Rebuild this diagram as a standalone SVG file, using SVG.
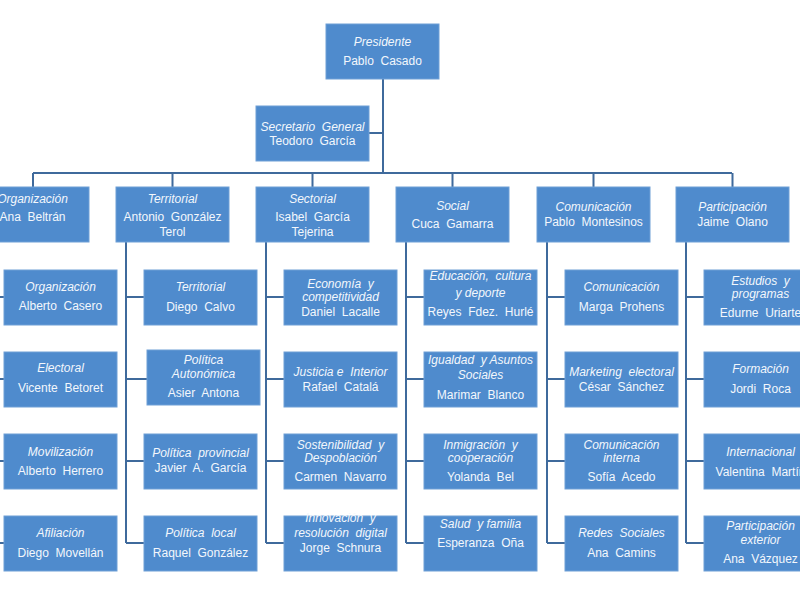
<svg xmlns="http://www.w3.org/2000/svg" width="800" height="600" viewBox="0 0 800 600">
<style>
.b{fill:#4f8bcd;stroke:#6f9fd6;stroke-width:1}
.c{fill:none;stroke:#3f6a9c;stroke-width:2}
text{font-family:"Liberation Sans",Arial,sans-serif;font-size:12px;fill:#f3f7fc;text-anchor:middle;white-space:pre}
.i{font-style:italic}
</style>
<rect width="800" height="600" fill="#ffffff"/>
<g id="connectors" class="c">
<path d="M383,79V173M369,133H383M33,173H732M33,173V187M172.5,173V187M312.5,173V187M452.5,173V187M593.5,173V187M732.5,173V187"/>
<path d="M-14,242V543M-14,297H4M-14,379H4M-14,461H4M-14,543H4"/>
<path d="M126,242V543M126,297H144M126,379H147M126,461H144M126,543H144"/>
<path d="M266,242V543M266,297H284M266,379H284M266,461H284M266,543H284"/>
<path d="M406,242V543M406,297H424M406,379H424M406,461H424M406,543H424"/>
<path d="M547,242V543M547,297H565M547,379H565M547,461H565M547,543H565"/>
<path d="M686,242V543M686,297H704M686,379H704M686,461H704M686,543H704"/>
</g>
<g id="presidente"><rect class="b" x="326" y="24" width="113" height="55"/><text class="i" x="382.5" y="46">Presidente</text><text x="382.5" y="65">Pablo  Casado</text></g>
<g id="secretario"><rect class="b" x="256" y="106" width="113" height="55"/><text class="i" x="312.5" y="131">Secretario  General</text><text x="312.5" y="145">Teodoro  García</text></g>

<g id="organizacion"><rect class="b" x="-24" y="187" width="113" height="55"/><text class="i" x="32.5" y="203">Organización</text><text x="32.5" y="221">Ana  Beltrán</text></g>
<g id="territorial"><rect class="b" x="116" y="187" width="113" height="55"/><text class="i" x="172.5" y="203">Territorial</text><text x="172.5" y="221">Antonio  González</text><text x="172.5" y="236">Terol</text></g>
<g id="sectorial"><rect class="b" x="256" y="187" width="113" height="55"/><text class="i" x="312.5" y="203">Sectorial</text><text x="312.5" y="221">Isabel  García</text><text x="312.5" y="236">Tejerina</text></g>
<g id="social"><rect class="b" x="396" y="187" width="113" height="55"/><text class="i" x="452.5" y="210">Social</text><text x="452.5" y="228">Cuca  Gamarra</text></g>
<g id="comunicacion"><rect class="b" x="537" y="187" width="113" height="55"/><text class="i" x="593.5" y="211">Comunicación</text><text x="593.5" y="226">Pablo  Montesinos</text></g>
<g id="participacion"><rect class="b" x="676" y="187" width="113" height="55"/><text class="i" x="732.5" y="211">Participación</text><text x="732.5" y="226">Jaime  Olano</text></g>

<g id="org1"><rect class="b" x="4" y="270" width="113" height="55"/><text class="i" x="60.5" y="291">Organización</text><text x="60.5" y="310">Alberto  Casero</text></g>
<g id="org2"><rect class="b" x="4" y="352" width="113" height="55"/><text class="i" x="60.5" y="372">Electoral</text><text x="60.5" y="392">Vicente  Betoret</text></g>
<g id="org3"><rect class="b" x="4" y="434" width="113" height="55"/><text class="i" x="60.5" y="456">Movilización</text><text x="60.5" y="475">Alberto  Herrero</text></g>
<g id="org4"><rect class="b" x="4" y="516" width="113" height="55"/><text class="i" x="60.5" y="537">Afiliación</text><text x="60.5" y="557">Diego  Movellán</text></g>

<g id="ter1"><rect class="b" x="144" y="270" width="113" height="55"/><text class="i" x="200.5" y="291">Territorial</text><text x="200.5" y="311">Diego  Calvo</text></g>
<g id="ter2"><rect class="b" x="147" y="350" width="113" height="55"/><text class="i" x="203.5" y="364">Política</text><text class="i" x="203.5" y="378">Autonómica</text><text x="203.5" y="397">Asier  Antona</text></g>
<g id="ter3"><rect class="b" x="144" y="434" width="113" height="55"/><text class="i" x="200.5" y="457">Política  provincial</text><text x="200.5" y="472">Javier  A.  García</text></g>
<g id="ter4"><rect class="b" x="144" y="516" width="113" height="55"/><text class="i" x="200.5" y="537">Política  local</text><text x="200.5" y="557">Raquel  González</text></g>

<g id="sec1"><rect class="b" x="284" y="270" width="113" height="55"/><text class="i" x="340.5" y="288">Economía  y</text><text class="i" x="340.5" y="301">competitividad</text><text x="340.5" y="316">Daniel  Lacalle</text></g>
<g id="sec2"><rect class="b" x="284" y="352" width="113" height="55"/><text class="i" x="340.5" y="376">Justicia e  Interior</text><text x="340.5" y="391">Rafael  Catalá</text></g>
<g id="sec3"><rect class="b" x="284" y="434" width="113" height="55"/><text class="i" x="340.5" y="449">Sostenibilidad  y</text><text class="i" x="340.5" y="462">Despoblación</text><text x="340.5" y="481">Carmen  Navarro</text></g>
<g id="sec4"><rect class="b" x="284" y="516" width="113" height="55"/><text class="i" x="340.5" y="522">Innovación  y</text><text class="i" x="340.5" y="537">resolución  digital</text><text x="340.5" y="552">Jorge  Schnura</text></g>

<g id="soc1"><rect class="b" x="424" y="270" width="113" height="55"/><text class="i" x="480.5" y="280">Educación,  cultura</text><text class="i" x="480.5" y="297">y deporte</text><text x="480.5" y="316">Reyes  Fdez.  Hurlé</text></g>
<g id="soc2"><rect class="b" x="424" y="352" width="113" height="55"/><text class="i" x="480.5" y="364">Igualdad  y Asuntos</text><text class="i" x="480.5" y="379">Sociales</text><text x="480.5" y="399">Marimar  Blanco</text></g>
<g id="soc3"><rect class="b" x="424" y="434" width="113" height="55"/><text class="i" x="480.5" y="449">Inmigración  y</text><text class="i" x="480.5" y="462">cooperación</text><text x="480.5" y="481">Yolanda  Bel</text></g>
<g id="soc4"><rect class="b" x="424" y="516" width="113" height="55"/><text class="i" x="480.5" y="528">Salud  y familia</text><text x="480.5" y="547">Esperanza  Oña</text></g>

<g id="com1"><rect class="b" x="565" y="270" width="113" height="55"/><text class="i" x="621.5" y="291">Comunicación</text><text x="621.5" y="311">Marga  Prohens</text></g>
<g id="com2"><rect class="b" x="565" y="352" width="113" height="55"/><text class="i" x="621.5" y="376">Marketing  electoral</text><text x="621.5" y="391">César  Sánchez</text></g>
<g id="com3"><rect class="b" x="565" y="434" width="113" height="55"/><text class="i" x="621.5" y="449">Comunicación</text><text class="i" x="621.5" y="462">interna</text><text x="621.5" y="481">Sofía  Acedo</text></g>
<g id="com4"><rect class="b" x="565" y="516" width="113" height="55"/><text class="i" x="621.5" y="537">Redes  Sociales</text><text x="621.5" y="557">Ana  Camins</text></g>

<g id="par1"><rect class="b" x="704" y="270" width="113" height="55"/><text class="i" x="760.5" y="285">Estudios  y</text><text class="i" x="760.5" y="298">programas</text><text x="760.5" y="317">Edurne  Uriarte</text></g>
<g id="par2"><rect class="b" x="704" y="352" width="113" height="55"/><text class="i" x="760.5" y="373">Formación</text><text x="760.5" y="393">Jordi  Roca</text></g>
<g id="par3"><rect class="b" x="704" y="434" width="113" height="55"/><text class="i" x="760.5" y="456">Internacional</text><text x="760.5" y="476">Valentina  Martín</text></g>
<g id="par4"><rect class="b" x="704" y="516" width="113" height="55"/><text class="i" x="760.5" y="530">Participación</text><text class="i" x="760.5" y="544">exterior</text><text x="760.5" y="563">Ana  Vázquez</text></g>
</svg>
